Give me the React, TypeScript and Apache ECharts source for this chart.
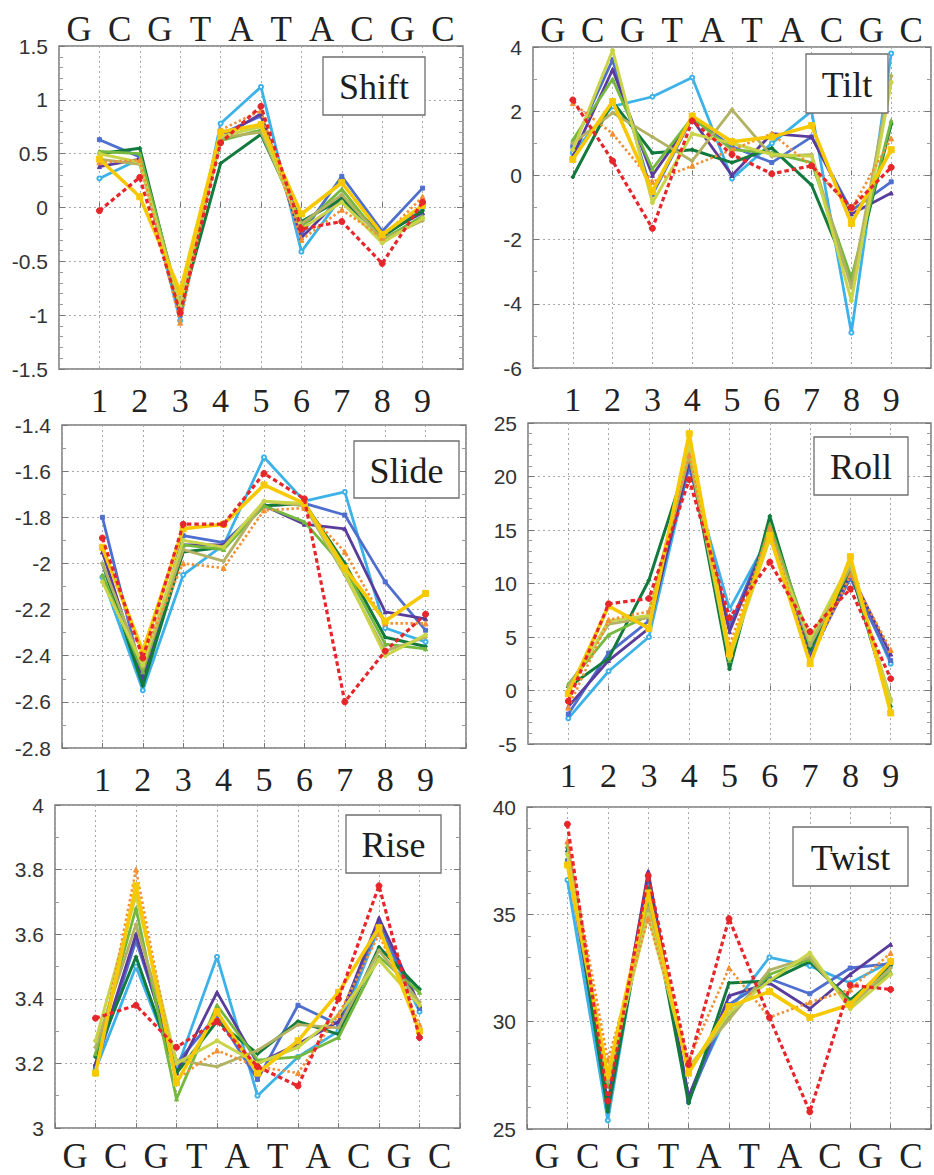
import React, { useEffect, useRef } from "react";
import * as echarts from "echarts";

// ---- data ----
const steps = [1, 2, 3, 4, 5, 6, 7, 8, 9];
const bases = ["G", "C", "G", "T", "A", "T", "A", "C", "G", "C"];

// series order: lightBlue, blue, purple, darkGreen, green, olive, yellowGreen, orange, yellow, red
const shiftValues = [
  [0.27, 0.45, -1.05, 0.78, 1.12, -0.41, 0.1, -0.28, 0.0],
  [0.63, 0.47, -1.0, 0.68, 0.85, -0.25, 0.29, -0.22, 0.18],
  [0.38, 0.45, -0.95, 0.65, 0.87, -0.28, 0.1, -0.25, -0.05],
  [0.5, 0.55, -0.95, 0.41, 0.68, -0.13, 0.08, -0.27, -0.03],
  [0.52, 0.5, -0.9, 0.62, 0.72, -0.18, 0.17, -0.3, -0.08],
  [0.45, 0.4, -0.88, 0.65, 0.7, -0.15, 0.12, -0.3, -0.12],
  [0.5, 0.42, -0.92, 0.66, 0.75, -0.2, 0.05, -0.33, -0.1],
  [0.42, 0.44, -1.07, 0.72, 0.9, -0.3, -0.02, -0.28, 0.1],
  [0.45, 0.1, -0.78, 0.7, 0.77, -0.06, 0.23, -0.25, 0.02],
  [-0.03, 0.28, -0.98, 0.6, 0.94, -0.2, -0.13, -0.52, 0.05],
];

const tiltValues = [
  [0.7, 2.15, 2.45, 3.05, -0.1, 1.0, 2.0, -4.9, 3.8],
  [0.9, 3.6, -0.6, 1.8, 0.9, 0.4, 1.2, -1.1, -0.2],
  [0.6, 3.3, 0.0, 1.75, 0.0, 1.3, 1.2, -1.2, -0.55],
  [-0.05, 2.3, 0.7, 0.8, 0.4, 0.85, -0.3, -3.3, 1.6],
  [1.1, 3.0, 0.2, 1.8, 0.8, 0.7, 0.4, -3.2, 1.7],
  [1.0, 1.95, 1.2, 0.45, 2.05, 0.6, 0.65, -3.5, 3.1],
  [0.8, 3.9, -0.85, 1.3, 1.0, 0.65, 0.6, -3.9, 2.9],
  [2.25, 1.3, -0.2, 0.3, 0.8, 1.3, 0.3, -1.05, 1.15],
  [0.5, 2.3, -0.5, 1.85, 1.05, 1.2, 1.55, -1.5, 0.8],
  [2.35, 0.45, -1.65, 1.7, 0.65, 0.05, 0.3, -1.0, 0.25],
];

const slideValues = [
  [-2.06, -2.55, -2.05, -1.92, -1.54, -1.73, -1.69, -2.28, -2.34],
  [-1.8, -2.5, -1.88, -1.91, -1.75, -1.74, -1.79, -2.08, -2.29],
  [-1.95, -2.5, -1.92, -1.92, -1.75, -1.83, -1.85, -2.21, -2.24],
  [-2.0, -2.53, -1.95, -1.93, -1.75, -1.74, -2.0, -2.32, -2.36],
  [-2.05, -2.47, -1.92, -1.94, -1.75, -1.82, -2.02, -2.35, -2.37],
  [-2.0, -2.45, -1.94, -1.99, -1.73, -1.75, -2.05, -2.38, -2.32],
  [-2.08, -2.44, -1.9, -1.93, -1.73, -1.74, -2.04, -2.4, -2.31],
  [-1.93, -2.4, -2.0, -2.02, -1.77, -1.76, -1.95, -2.26, -2.26],
  [-1.93, -2.38, -1.85, -1.83, -1.66, -1.74, -2.02, -2.25, -2.13],
  [-1.89, -2.41, -1.83, -1.83, -1.61, -1.72, -2.6, -2.38, -2.22],
];

const rollValues = [
  [-2.6, 1.8, 5.0, 21.0, 7.6, 14.5, 3.5, 11.0, 2.5],
  [-2.2, 3.5, 6.5, 21.0, 6.0, 15.0, 3.2, 10.5, 2.8],
  [-1.5, 2.8, 5.8, 21.5, 5.5, 14.8, 3.0, 11.0, 3.4],
  [0.3, 3.0, 10.3, 22.0, 2.0, 16.3, 3.8, 11.3, -1.5],
  [0.6, 5.2, 7.0, 22.5, 2.8, 15.5, 4.6, 11.8, -1.8],
  [0.4, 6.2, 6.8, 22.0, 3.2, 15.0, 4.2, 11.5, -0.8],
  [0.0, 6.5, 7.0, 23.0, 3.0, 14.2, 4.8, 12.0, -1.0],
  [-1.6, 6.6, 7.4, 22.0, 4.2, 15.2, 2.8, 10.8, 3.8],
  [-0.3, 7.9, 5.8, 24.0, 3.4, 14.5, 2.5, 12.5, -2.1],
  [-1.0, 8.1, 8.6, 19.7, 6.8, 12.0, 5.5, 9.5, 1.1],
];

const riseValues = [
  [3.18, 3.5, 3.18, 3.53, 3.1, 3.22, 3.3, 3.62, 3.36],
  [3.19, 3.58, 3.2, 3.35, 3.15, 3.38, 3.32, 3.63, 3.37],
  [3.2, 3.6, 3.17, 3.42, 3.2, 3.26, 3.33, 3.65, 3.38],
  [3.22, 3.53, 3.17, 3.33, 3.23, 3.33, 3.29, 3.56, 3.43],
  [3.23, 3.68, 3.09, 3.38, 3.21, 3.22, 3.28, 3.53, 3.42],
  [3.25, 3.63, 3.21, 3.19, 3.24, 3.32, 3.31, 3.55, 3.39],
  [3.27, 3.72, 3.2, 3.27, 3.2, 3.25, 3.35, 3.52, 3.38],
  [3.17, 3.8, 3.15, 3.24, 3.19, 3.17, 3.35, 3.6, 3.32],
  [3.17, 3.75, 3.14, 3.36, 3.17, 3.27, 3.42, 3.62, 3.3],
  [3.34, 3.38, 3.25, 3.33, 3.19, 3.13, 3.4, 3.75, 3.28],
];

const twistValues = [
  [36.6, 25.4, 36.4, 26.5, 30.5, 33.0, 32.6, 31.8, 32.8],
  [37.5, 26.0, 36.8, 26.3, 30.8, 32.0, 31.3, 32.5, 32.7],
  [38.0, 26.2, 37.0, 26.5, 31.2, 31.8, 30.6, 32.2, 33.6],
  [38.1, 25.8, 36.2, 26.2, 31.8, 31.9, 32.8, 31.0, 32.6],
  [38.2, 27.0, 35.5, 27.7, 30.3, 32.2, 32.9, 30.9, 32.3],
  [38.3, 27.2, 35.3, 27.9, 30.1, 32.4, 33.0, 30.7, 32.5],
  [37.8, 27.4, 35.0, 27.8, 30.4, 31.9, 33.2, 30.6, 32.2],
  [38.4, 28.2, 34.8, 28.2, 32.5, 30.2, 30.9, 31.5, 33.2],
  [37.3, 27.5, 36.0, 27.6, 30.7, 31.4, 30.2, 30.8, 32.8],
  [39.2, 26.3, 36.8, 28.0, 34.8, 30.2, 25.8, 31.7, 31.5],
];

// ---- styles ----
const seriesStyles = [
  { color: "#3db2e8", width: 2.8, type: "solid", cap: "round", symbol: "emptyCircle", size: 4 },
  { color: "#4f6fcf", width: 2.8, type: "solid", cap: "round", symbol: "rect", size: 4 },
  { color: "#5a3c9c", width: 2.8, type: "solid", cap: "round", symbol: "triangle", size: 4 },
  { color: "#137a3e", width: 3.0, type: "solid", cap: "round", symbol: "diamond", size: 4 },
  { color: "#74b83e", width: 2.8, type: "solid", cap: "round", symbol: "triangle", size: 4 },
  { color: "#b3b163", width: 2.8, type: "solid", cap: "round", symbol: "diamond", size: 4 },
  { color: "#c9d449", width: 3.0, type: "solid", cap: "round", symbol: "circle", size: 4 },
  { color: "#f39034", width: 2.6, type: [2.5, 2.5], cap: "butt", symbol: "triangle", size: 5 },
  { color: "#f7c905", width: 3.6, type: "solid", cap: "round", symbol: "rect", size: 6 },
  { color: "#e6262a", width: 3.2, type: [4.5, 3], cap: "butt", symbol: "circle", size: 6 },
];

const SANS = '"Liberation Sans", Arial, Helvetica, sans-serif';
const SERIF = '"Liberation Serif", "Times New Roman", Times, serif';

const panels = [
  { name: "Shift", values: shiftValues, min: -1.5, max: 1.5, interval: 0.5, minor: 5, row: 0,
    grid: { left: 59, top: 46, width: 404, height: 323 }, box: { x: 323, y: 57, w: 102, h: 58 } },
  { name: "Tilt", values: tiltValues, min: -6, max: 4, interval: 2, minor: 2, row: 0,
    grid: { left: 533, top: 47, width: 406, height: 321 }, box: { x: 806, y: 54, w: 82, h: 59 } },
  { name: "Slide", values: slideValues, min: -2.8, max: -1.4, interval: 0.2, minor: 2, row: 1,
    grid: { left: 62, top: 425, width: 404, height: 323 }, box: { x: 354, y: 441, w: 105, h: 57 } },
  { name: "Roll", values: rollValues, min: -5, max: 25, interval: 5, minor: 5, row: 1,
    grid: { left: 528, top: 423, width: 404, height: 321 }, box: { x: 814, y: 437, w: 94, h: 58 } },
  { name: "Rise", values: riseValues, min: 3, max: 4, interval: 0.2, minor: 2, row: 2,
    grid: { left: 55, top: 805, width: 405, height: 323 }, box: { x: 346, y: 815, w: 95, h: 58 } },
  { name: "Twist", values: twistValues, min: 25, max: 40, interval: 5, minor: 5, row: 2,
    grid: { left: 527, top: 807, width: 404, height: 322 }, box: { x: 793, y: 827, w: 115, h: 59 } },
];

function buildOption() {
  const grid: any[] = [];
  const xAxis: any[] = [];
  const yAxis: any[] = [];
  const series: any[] = [];
  const graphic: any[] = [];

  panels.forEach((p, gi) => {
    grid.push({
      ...p.grid,
      show: true,
      borderColor: "#7a7a7a",
      borderWidth: 1.5,
      backgroundColor: "transparent",
      containLabel: false,
    });

    const xValIdx = xAxis.length;
    xAxis.push({
      type: "value",
      gridIndex: gi,
      min: 0,
      max: 10,
      interval: 1,
      position: "bottom",
      axisLine: { show: false },
      axisTick: { show: true, inside: true, length: 5, lineStyle: { color: "#777" } },
      axisLabel: {
        show: p.row < 2,
        margin: 15,
        fontFamily: SERIF,
        fontSize: 34,
        lineHeight: 32,
        color: "#222",
        formatter: (v: number) => (v >= 1 && v <= 9 ? String(v) : ""),
      },
      splitLine: { show: true, lineStyle: { type: [2, 3], color: "#a8a8a8", width: 1 } },
    });

    if (p.row === 0 || p.row === 2) {
      const bottomEdge = p.grid.top + p.grid.height;
      xAxis.push({
        type: "category",
        gridIndex: gi,
        data: bases,
        boundaryGap: true,
        position: p.row === 0 ? "top" : "bottom",
        axisLine: { show: false },
        axisTick: { show: false },
        splitLine: { show: false },
        axisLabel: {
          interval: 0,
          margin: p.row === 0 ? 2 : 13 - (bottomEdge - 1128),
          fontFamily: SERIF,
          fontSize: 35,
          lineHeight: 30,
          color: "#222",
        },
      });
    }

    const yIdx = yAxis.length;
    yAxis.push({
      type: "value",
      gridIndex: gi,
      min: p.min,
      max: p.max,
      interval: p.interval,
      position: "left",
      axisLine: { show: false },
      axisTick: { show: true, inside: true, length: 6, lineStyle: { color: "#777" } },
      minorTick: { show: true, splitNumber: p.minor, length: 4, lineStyle: { color: "#999" } },
      axisLabel: {
        margin: 11,
        fontFamily: SANS,
        fontSize: 21,
        color: "#333",
        formatter: (v: number) => String(Math.round(v * 100) / 100),
      },
      splitLine: { show: true, lineStyle: { type: [2, 3], color: "#a8a8a8", width: 1 } },
    });
    yAxis.push({
      type: "value",
      gridIndex: gi,
      min: p.min,
      max: p.max,
      interval: p.interval,
      position: "right",
      axisLine: { show: false },
      axisTick: { show: true, inside: true, length: 6, lineStyle: { color: "#777" } },
      minorTick: { show: true, splitNumber: p.minor, length: 4, lineStyle: { color: "#999" } },
      axisLabel: { show: false },
      splitLine: { show: false },
    });

    p.values.forEach((vals, si) => {
      const s = seriesStyles[si];
      series.push({
        type: "line",
        xAxisIndex: xValIdx,
        yAxisIndex: yIdx,
        data: steps.map((x, k) => [x, vals[k]]),
        symbol: s.symbol,
        symbolSize: s.size,
        showSymbol: true,
        lineStyle: { color: s.color, width: s.width, type: s.type, cap: s.cap, join: "round" },
        itemStyle: { color: s.color, borderColor: s.color },
        z: 2 + si,
        silent: true,
      });
    });

    graphic.push({
      type: "group",
      z: 100,
      children: [
        {
          type: "rect",
          shape: { x: p.box.x, y: p.box.y, width: p.box.w, height: p.box.h },
          style: { fill: "#ffffff", stroke: "#6f6f6f", lineWidth: 1.3 },
          z: 100,
        },
        {
          type: "text",
          x: p.box.x + p.box.w / 2,
          y: p.box.y + p.box.h / 2 + 1,
          z: 101,
          style: {
            text: p.name,
            font: `36px ${SERIF}`,
            fill: "#1e1e1e",
            align: "center",
            verticalAlign: "middle",
          },
        },
      ],
    });
  });

  return {
    animation: false,
    backgroundColor: "#ffffff",
    grid,
    xAxis,
    yAxis,
    series,
    graphic,
  };
}

export default function App() {
  const ref = useRef<HTMLDivElement>(null);
  useEffect(() => {
    if (!ref.current) return;
    const chart = echarts.init(ref.current, undefined, { renderer: "svg" });
    chart.setOption(buildOption() as any);
    return () => chart.dispose();
  }, []);
  return (
    <div
      ref={ref}
      style={{ position: "absolute", left: 0, top: 0, width: 934, height: 1175, background: "#fff" }}
    />
  );
}
